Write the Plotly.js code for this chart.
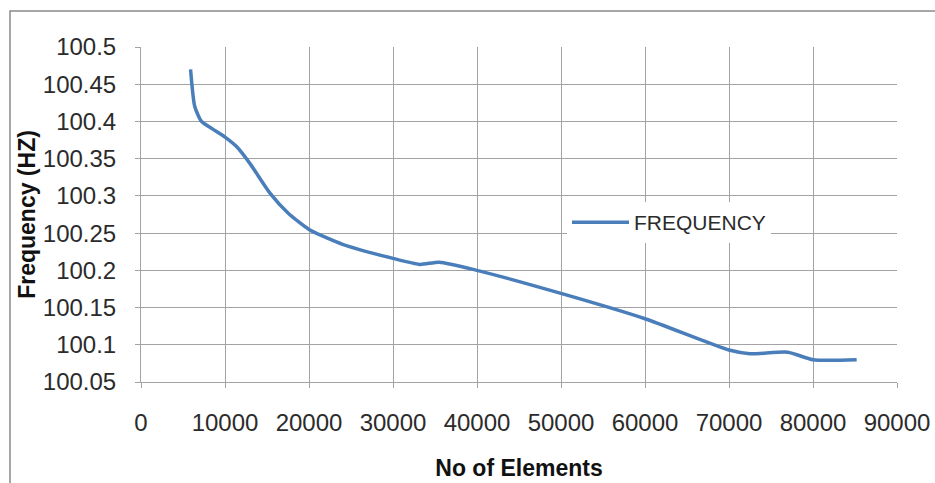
<!DOCTYPE html>
<html>
<head>
<meta charset="utf-8">
<script src="https://cdn.plot.ly/plotly-3.0.1.min.js"></script>
<style>
  html, body { margin: 0; padding: 0; background: #ffffff; }
  #chart { width: 935px; height: 483px; }
</style>
</head>
<body>
<div id="chart"></div>
<script>
// Natural frequency versus mesh size (number of elements)
const elements = [5900, 6400, 7200, 8500, 10000, 11400, 13000, 15400, 17500, 20000, 24000,
                  30000, 33200, 35500, 40000, 50000, 60000, 70000, 72500, 77000, 80000, 85200];
const frequency = [100.47, 100.42, 100.40, 100.39, 100.379, 100.366, 100.343, 100.303, 100.277, 100.255, 100.235,
                   100.216, 100.208, 100.211, 100.200, 100.169, 100.135, 100.093, 100.088, 100.090, 100.080, 100.080];

const xTicks = [0, 10000, 20000, 30000, 40000, 50000, 60000, 70000, 80000, 90000];
const yTicks = [100.05, 100.1, 100.15, 100.2, 100.25, 100.3, 100.35, 100.4, 100.45, 100.5];
const yTickText = ['100.05', '100.1', '100.15', '100.2', '100.25', '100.3', '100.35', '100.4', '100.45', '100.5'];

const gridColor = '#a3a3a3';
const textColor = '#2b2b2b';
const baseFont = 'Liberation Sans, Arial, sans-serif';

const trace = {
  x: elements,
  y: frequency,
  type: 'scatter',
  mode: 'lines',
  name: 'FREQUENCY',
  line: { color: '#4a7ebb', width: 3.5, shape: 'spline', smoothing: 0.6 },
  hoverinfo: 'x+y'
};

const layout = {
  width: 935,
  height: 483,
  margin: { l: 141, r: 38, t: 47, b: 101 },
  paper_bgcolor: '#ffffff',
  plot_bgcolor: '#ffffff',
  font: { family: baseFont, size: 24, color: textColor },
  showlegend: true,
  legend: {
    x: 0.5635, y: 0.537, xanchor: 'left', yanchor: 'top',
    bgcolor: '#ffffff', borderwidth: 0,
    font: { family: baseFont, size: 21, color: textColor },
    itemwidth: 57
  },
  xaxis: {
    range: [0, 90000],
    tickmode: 'array',
    tickvals: xTicks,
    ticktext: xTicks.map(String),
    showgrid: true, gridcolor: gridColor, gridwidth: 1,
    showline: true, linecolor: gridColor, linewidth: 1,
    ticks: 'outside', ticklen: 5, tickcolor: gridColor,
    ticklabelstandoff: 14,
    zeroline: false,
    tickfont: { family: baseFont, size: 24, color: textColor },
    title: { text: 'No of Elements', standoff: 25,
             font: { family: baseFont, size: 23, color: '#111111', weight: 'bold' } },
    automargin: false,
    fixedrange: true
  },
  yaxis: {
    range: [100.05, 100.5],
    tickmode: 'array',
    tickvals: yTicks,
    ticktext: yTickText,
    showgrid: true, gridcolor: gridColor, gridwidth: 1,
    showline: true, linecolor: gridColor, linewidth: 1,
    ticks: 'outside', ticklen: 5, tickcolor: gridColor,
    ticklabelstandoff: 14,
    zeroline: false,
    tickfont: { family: baseFont, size: 24, color: textColor },
    title: { text: 'Frequency (HZ)', standoff: 0,
             font: { family: baseFont, size: 23, color: '#111111', weight: 'bold' } },
    automargin: false,
    fixedrange: true
  },
  shapes: [{
    // outer chart frame (open on the right and bottom edges of the page)
    type: 'rect', xref: 'paper', yref: 'paper',
    x0: -0.1733, x1: 1.12, y0: -0.35, y1: 1.1075,
    line: { color: '#8a8a8a', width: 1.5 },
    fillcolor: 'rgba(0,0,0,0)', layer: 'below'
  }]
};

Plotly.newPlot('chart', [trace], layout, { staticPlot: true, displayModeBar: false });
</script>
</body>
</html>
